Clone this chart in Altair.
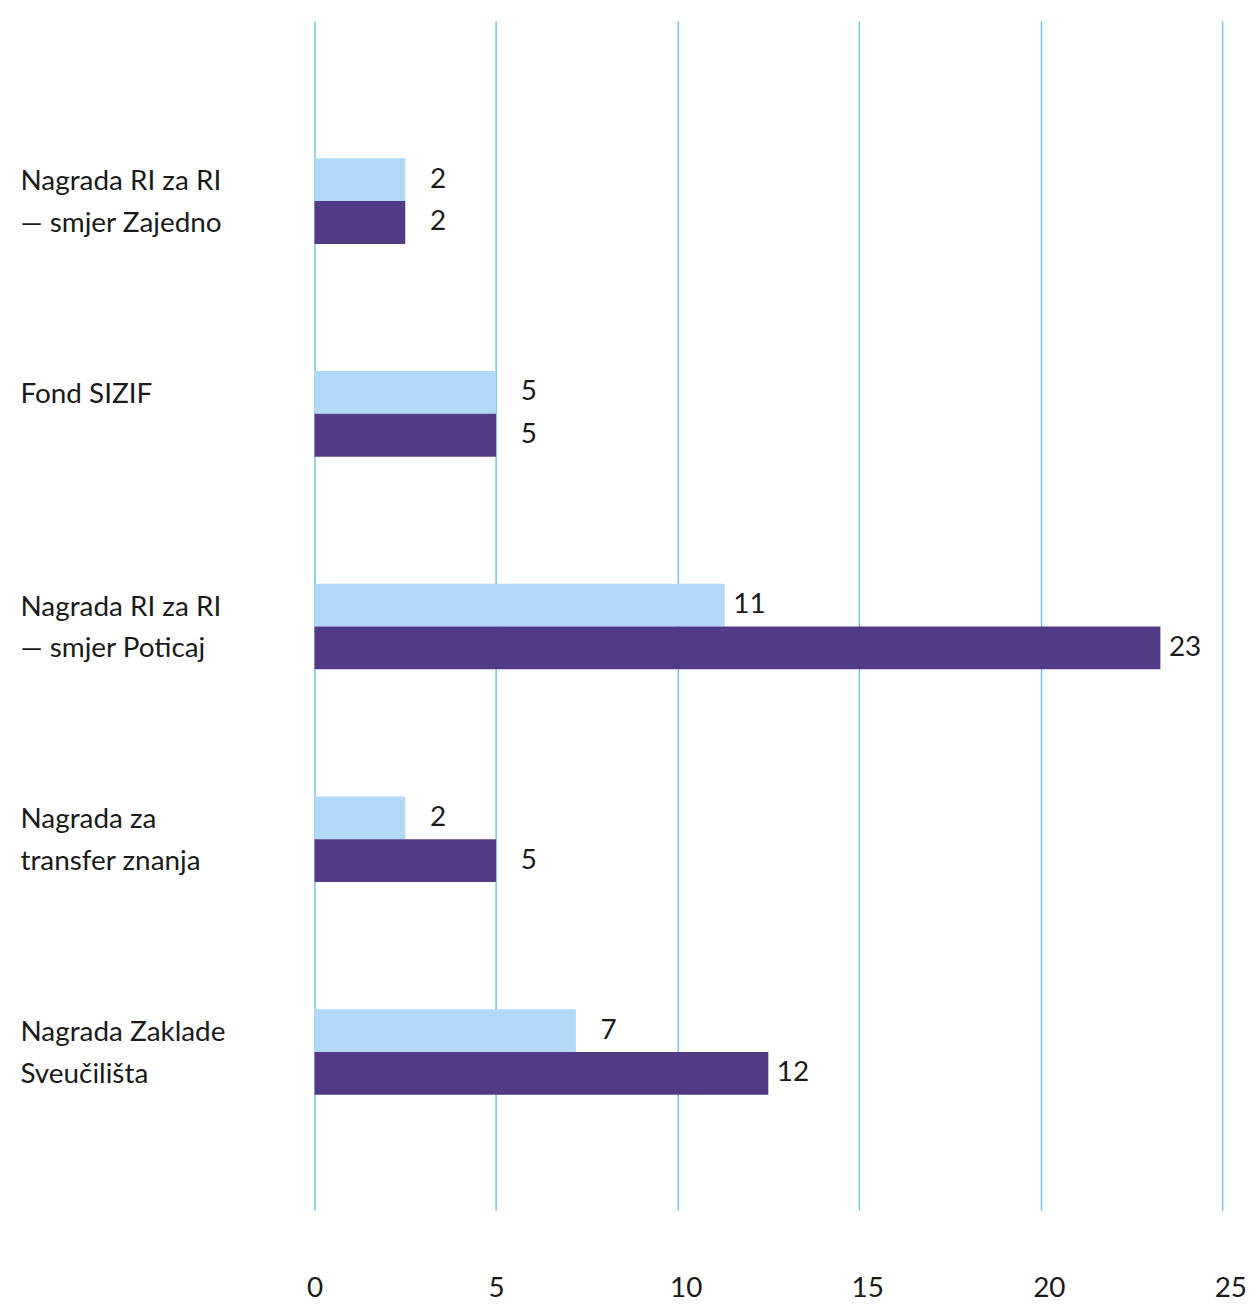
import altair as alt
import pandas as pd

categories = [
    "Nagrada RI za RI|— smjer Zajedno",
    "Fond SIZIF",
    "Nagrada RI za RI|— smjer Poticaj",
    "Nagrada za|transfer znanja",
    "Nagrada Zaklade|Sveučilišta",
]
series = ["Serija 1", "Serija 2"]
values_light = [2.5, 5.0, 11.3, 2.5, 7.2]
values_dark = [2.5, 5.0, 23.3, 5.0, 12.5]
labels_light = ["2", "5", "11", "2", "7"]
labels_dark = ["2", "5", "23", "5", "12"]
x_ticks = [0, 5, 10, 15, 20, 25]
colors = ["#b1d8f6", "#523a87"]

rows = []
for i, c in enumerate(categories):
    rows.append({"cat": c, "ser": series[0], "val": values_light[i], "lab": labels_light[i]})
    rows.append({"cat": c, "ser": series[1], "val": values_dark[i], "lab": labels_dark[i]})
df = pd.DataFrame(rows)

FONT = "Lato"
TXT = "#1a1a1a"

base = alt.Chart(df).encode(
    y=alt.Y(
        "cat:N",
        sort=categories,
        scale=alt.Scale(paddingInner=0.5977, paddingOuter=0.594, align=0.543),
        axis=alt.Axis(
            title=None,
            labelExpr="split(datum.label, '|')",
            labelAlign="left",
            labelBaseline="alphabetic",
            labelPadding=296,
            labelOffset=-11,
            labelLineHeight=42,
            labelFont=FONT,
            labelFontSize=28,
            labelColor=TXT,
            ticks=False,
            tickSize=0,
            domain=False,
            labelLimit=0,
        ),
    ),
    yOffset=alt.YOffset("ser:N", sort=series, scale=alt.Scale(paddingInner=0, paddingOuter=0)),
)

bars = base.mark_bar().encode(
    x=alt.X(
        "val:Q",
        scale=alt.Scale(domain=[0, 25], nice=False),
        axis=alt.Axis(
            values=x_ticks,
            title=None,
            grid=True,
            gridColor="#74c3ee",
            gridWidth=1.5,
            domain=False,
            ticks=False,
            tickSize=0,
            labelAlign="left",
            labelFlush=False,
            labelOffset=-8,
            labelBaseline="top",
            labelPadding=65,
            labelFont=FONT,
            labelFontSize=28,
            labelColor=TXT,
        ),
    ),
    color=alt.Color("ser:N", sort=series, scale=alt.Scale(domain=series, range=colors), legend=None),
)

text = base.mark_text(
    align="right", dx=41, baseline="middle", font=FONT, fontSize=28, color=TXT
).encode(x="val:Q", text="lab:N")

chart = (
    alt.layer(bars, text)
    .properties(
        width=912,
        height=1195,
        padding={"left": 12, "top": 10, "right": 0, "bottom": 0},
    )
    .configure_view(stroke=None)
)

chart.save("out.html", embed_options={"renderer": "svg", "actions": False})
